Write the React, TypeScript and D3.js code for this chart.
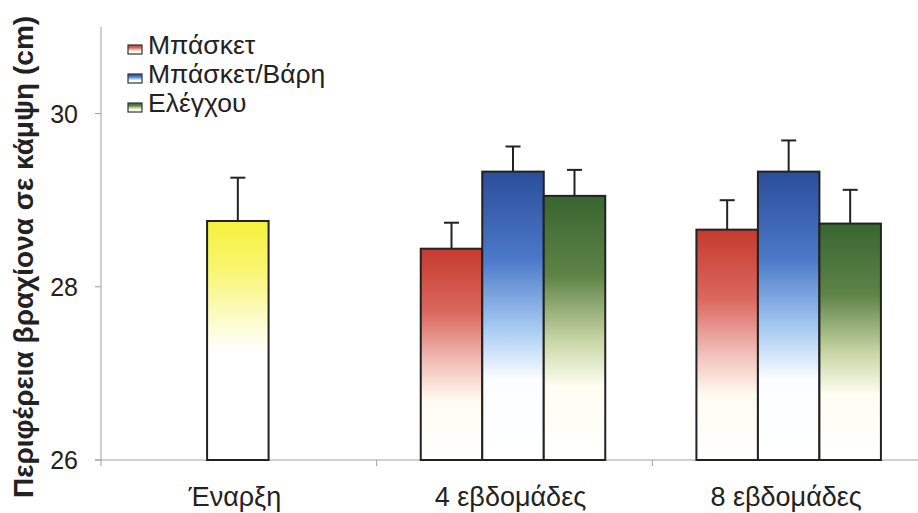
import React from "react";
import * as d3 from "d3";

// Arm circumference in flexion (cm): baseline and two follow-ups per group
const categories = ["Έναρξη", "4 εβδομάδες", "8 εβδομάδες"];
const seriesNames = ["Μπάσκετ", "Μπάσκετ/Βάρη", "Ελέγχου"];
const baselineMean = 28.76;
const baselineSd = 0.5;
const week4Means = [28.44, 29.33, 29.05];
const week4Sd = [0.3, 0.29, 0.3];
const week8Means = [28.66, 29.33, 28.73];
const week8Sd = [0.34, 0.36, 0.39];
const yTicks = [26, 28, 30];

// gradient stops per series: top colour, mid tint, pale end
const seriesRamps = [
  ["#c63a2e", "#d9685e", "#f2c4bd", "#fffbf0"],
  ["#2b4e9b", "#4a78c8", "#a9cdf3", "#fbfdff"],
  ["#376630", "#5e8347", "#c9d7a6", "#fdfdf0"],
];
const baselineRamp = ["#f5f23c", "#f8f66e", "#fcfbc4", "#ffffff"];

const W = 918;
const H = 513;
const plot = { left: 101, right: 928, top: 27, bottom: 460 };

function Ramp({ id, colors, offsets }: { id: string; colors: string[]; offsets: number[] }) {
  return (
    <linearGradient id={id} x1="0" y1="0" x2="0" y2="1">
      {colors.map((c, i) => (
        <stop key={i} offset={offsets[i]} stopColor={c} />
      ))}
      <stop offset="1" stopColor="#ffffff" />
    </linearGradient>
  );
}

export default function App() {
  const x = d3.scaleBand<string>().domain(categories).range([plot.left, plot.right]);
  const y = d3.scaleLinear().domain([26, 31]).range([plot.bottom, plot.top]);
  const barW = 61.5;

  type Bar = { key: string; cx: number; mean: number; sd: number; grad: string };
  const bars: Bar[] = [];
  const c0 = (x(categories[0]) as number) + x.bandwidth() / 2;
  bars.push({ key: "b0", cx: c0 - 1, mean: baselineMean, sd: baselineSd, grad: "g-base" });
  [week4Means, week8Means].forEach((means, gi) => {
    const sds = gi === 0 ? week4Sd : week8Sd;
    const center = (x(categories[gi + 1]) as number) + x.bandwidth() / 2 - 1.5;
    means.forEach((m, si) => {
      bars.push({
        key: `b${gi}-${si}`,
        cx: center + (si - 1) * barW,
        mean: m,
        sd: sds[si],
        grad: `g-s${si}`,
      });
    });
  });

  const font = "'Liberation Sans', Arial, sans-serif";
  const boundaries = [plot.left, ...categories.map((c) => (x(c) as number) + x.bandwidth())];

  return (
    <svg
      width={W}
      height={H}
      style={{ position: "absolute", left: 0, top: 0, background: "#fff" }}
      fontFamily={font}
    >
      <defs>
        <Ramp id="g-base" colors={baselineRamp} offsets={[0, 0.2, 0.4, 0.55]} />
        {seriesRamps.map((r, i) => (
          <Ramp key={i} id={`g-s${i}`} colors={r} offsets={[0, 0.3, 0.55, 0.72]} />
        ))}
      </defs>

      {/* axes */}
      <line x1={plot.left} x2={plot.left} y1={plot.top} y2={plot.bottom} stroke="#a0a0a0" strokeWidth={1} />
      <line x1={plot.left - 6} x2={W} y1={plot.bottom} y2={plot.bottom} stroke="#a0a0a0" strokeWidth={1} />
      {yTicks.map((t) => (
        <g key={t}>
          <line x1={plot.left - 6} x2={plot.left} y1={y(t)} y2={y(t)} stroke="#a0a0a0" />
          <text x={plot.left - 23} y={y(t)} dy="0.36em" textAnchor="end" fontSize={25} fill="#222">
            {t}
          </text>
        </g>
      ))}
      {boundaries.map((b, i) => (
        <line key={i} x1={b} x2={b} y1={plot.bottom} y2={plot.bottom + 6} stroke="#a0a0a0" />
      ))}
      {categories.map((c) => (
        <text
          key={c}
          x={(x(c) as number) + x.bandwidth() / 2 - 4}
          y={506}
          textAnchor="middle"
          fontSize={27}
          fill="#222"
        >
          {c}
        </text>
      ))}

      {/* bars with error bars */}
      {bars.map((b) => {
        const top = y(b.mean);
        const errTop = y(b.mean + b.sd);
        return (
          <g key={b.key}>
            <line x1={b.cx} x2={b.cx} y1={top} y2={errTop} stroke="#222" strokeWidth={2} />
            <line x1={b.cx - 7.5} x2={b.cx + 7.5} y1={errTop} y2={errTop} stroke="#222" strokeWidth={2} />
            <rect
              x={b.cx - barW / 2}
              y={top}
              width={barW}
              height={plot.bottom - top}
              fill={`url(#${b.grad})`}
              stroke="#222"
              strokeWidth={2}
            />
          </g>
        );
      })}

      {/* legend */}
      {seriesNames.map((n, i) => (
        <g key={n} transform={`translate(128, ${45 + i * 29})`}>
          <rect x={0} y={0} width={14} height={9} fill={`url(#g-s${i})`} stroke="#333" strokeWidth={1.2} />
          <text x={20} y={9} fontSize={26.5} fill="#222">
            {n}
          </text>
        </g>
      ))}

      {/* y axis title */}
      <text
        transform={`translate(33, ${257}) rotate(-90)`}
        textAnchor="middle"
        fontSize={28}
        fontWeight="bold"
        fill="#222"
      >
        Περιφέρεια βραχίονα σε κάμψη (cm)
      </text>
    </svg>
  );
}
